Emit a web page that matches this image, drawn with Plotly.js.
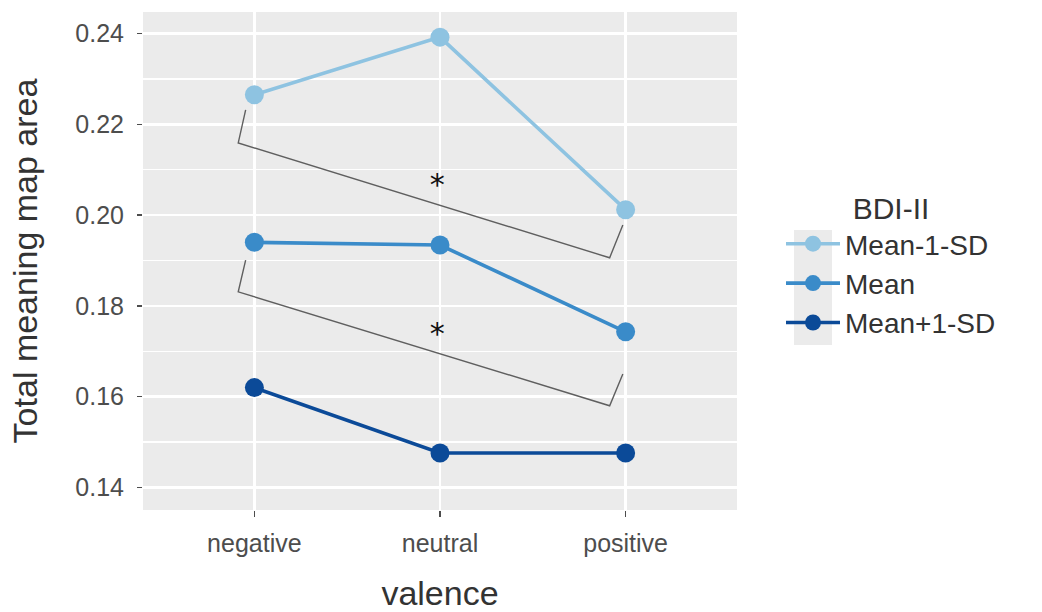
<!DOCTYPE html>
<html>
<head>
<meta charset="utf-8">
<script src="https://cdn.plot.ly/plotly-3.0.1.min.js"></script>
<style>
  html, body { margin: 0; padding: 0; background: #ffffff; }
  #chart { width: 1042px; height: 612px; }
</style>
</head>
<body>
<div id="chart"></div>
<script>
// ---- data ----
const valence = ["negative", "neutral", "positive"];
const groups = ["Mean-1-SD", "Mean", "Mean+1-SD"];
const meanMinus1SD = [0.2265, 0.2392, 0.2012];
const meanBDI = [0.1940, 0.1934, 0.1743];
const meanPlus1SD = [0.1620, 0.1476, 0.1476];
const groupColors = ["#8EC3E1", "#3A8BC9", "#0B4A98"];

// significance brackets (x in category index units, y in data units)
const bracketUpperX = [-0.047, -0.087, 1.914, 1.985];
const bracketUpperY = [0.2232, 0.2159, 0.1906, 0.1978];
const bracketLowerX = [-0.047, -0.087, 1.914, 1.985];
const bracketLowerY = [0.1901, 0.1831, 0.1580, 0.1650];
const sigX = [0.985, 0.985];
const sigY = [0.2060, 0.1732];
const sigLabels = ["*", "*"];

const series = [meanMinus1SD, meanBDI, meanPlus1SD];
const xIdx = valence.map((_, i) => i);

const traces = [];
[bracketUpperX, bracketLowerX].forEach((bx, k) => {
  traces.push({
    x: bx, y: k === 0 ? bracketUpperY : bracketLowerY,
    mode: "lines", type: "scatter", showlegend: false, hoverinfo: "skip",
    line: { color: "#5F5F5F", width: 1.4 }
  });
});
series.forEach((vals, g) => {
  traces.push({
    x: xIdx, y: vals, name: groups[g],
    mode: "lines+markers", type: "scatter",
    line: { color: groupColors[g], width: 3.6 },
    marker: { color: groupColors[g], size: 19 }
  });
});
traces.push({
  x: sigX, y: sigY, text: sigLabels, mode: "text", type: "scatter",
  showlegend: false, hoverinfo: "skip",
  textposition: "middle center",
  textfont: { family: "DejaVu Sans, sans-serif", size: 30, color: "#111111" }
});

const plotL = 143, plotR = 737, plotT = 12, plotB = 510;
const pw = plotR - plotL, ph = plotB - plotT;
const px2paperX = p => (p - plotL) / pw;
const px2paperY = p => (plotB - p) / ph;

const layout = {
  width: 1042, height: 612,
  margin: { l: plotL, r: 1042 - plotR, t: plotT, b: 612 - plotB },
  paper_bgcolor: "#ffffff",
  plot_bgcolor: "#EBEBEB",
  font: { family: "Liberation Sans, Arial, sans-serif", color: "#333333" },
  xaxis: {
    range: [-0.6, 2.6],
    tickmode: "array", tickvals: xIdx, ticktext: valence,
    showgrid: true, gridcolor: "#ffffff", gridwidth: 2.4,
    zeroline: false, showline: false,
    ticks: "outside", ticklen: 6, tickwidth: 1.5, tickcolor: "#4D4D4D",
    ticklabelstandoff: 5,
    tickfont: { size: 25, color: "#4D4D4D" },
    title: { text: "valence", font: { size: 34, color: "#333333" }, standoff: 26 }
  },
  yaxis: {
    range: [0.13504, 0.24474],
    tickmode: "array",
    tickvals: [0.14, 0.16, 0.18, 0.20, 0.22, 0.24],
    ticktext: ["0.14", "0.16", "0.18", "0.20", "0.22", "0.24"],
    showgrid: true, gridcolor: "#ffffff", gridwidth: 2.4,
    minor: { tickmode: "array", tickvals: [0.15, 0.17, 0.19, 0.21, 0.23], showgrid: true, gridcolor: "#ffffff", gridwidth: 1.2, ticks: "" },
    zeroline: false, showline: false,
    ticks: "outside", ticklen: 5, tickwidth: 1.5, tickcolor: "#4D4D4D",
    ticklabelstandoff: 8,
    tickfont: { size: 25, color: "#4D4D4D" },
    title: { text: "Total meaning map area", font: { size: 34, color: "#333333" }, standoff: 27 }
  },
  legend: {
    x: px2paperX(781), xanchor: "left",
    y: px2paperY(180), yanchor: "top",
    bgcolor: "rgba(0,0,0,0)",
    font: { size: 28, color: "#333333" },
    title: { text: "BDI-II", side: "top center", font: { size: 30, color: "#333333" } },
    itemwidth: 54,
    tracegroupgap: 0
  },
  shapes: [{
    type: "rect", xref: "paper", yref: "paper", layer: "below",
    x0: px2paperX(794), x1: px2paperX(832),
    y0: px2paperY(345), y1: px2paperY(230),
    fillcolor: "#EBEBEB", line: { width: 0 }
  }],
  showlegend: true
};

Plotly.newPlot("chart", traces, layout, { displayModeBar: false, staticPlot: true });
</script>
</body>
</html>
